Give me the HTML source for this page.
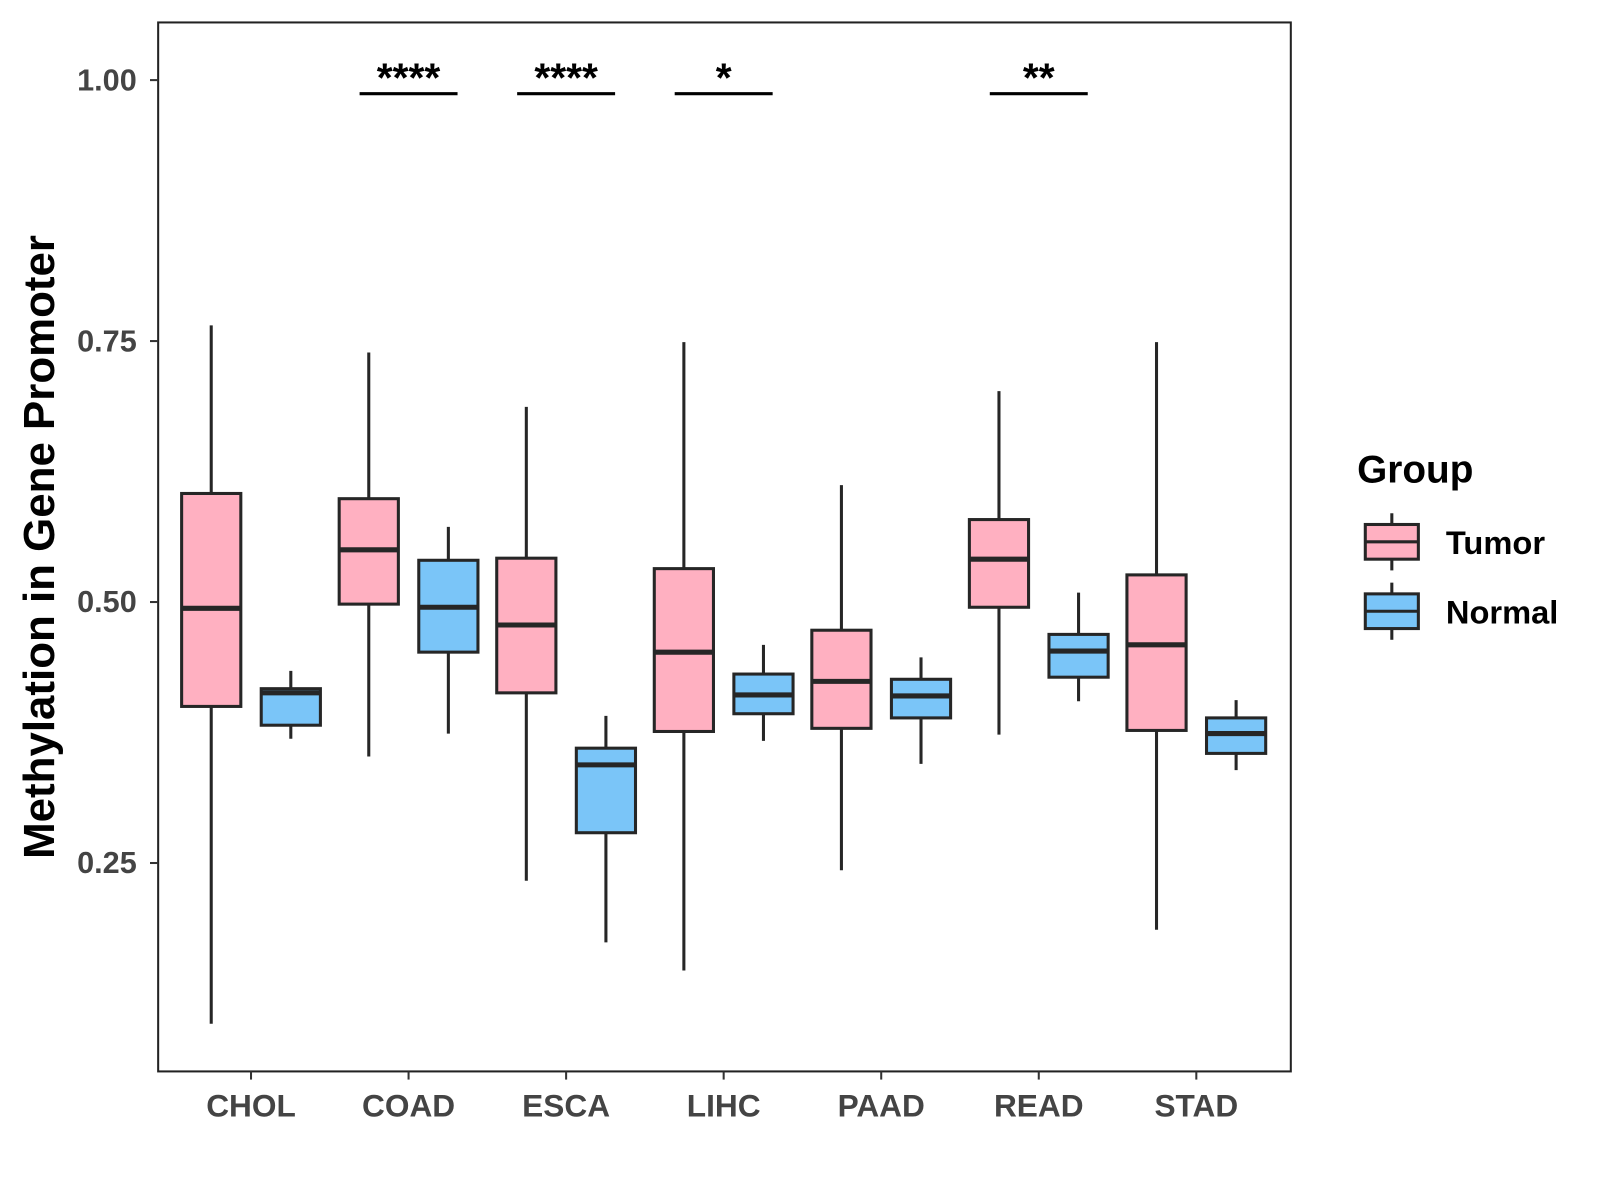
<!DOCTYPE html>
<html><head><meta charset="utf-8"><style>
body{margin:0;background:#fff}
svg{display:block;font-family:"Liberation Sans",Arial,sans-serif}
</style></head><body>
<svg id="chart" width="1600" height="1200" viewBox="0 0 1600 1200">
<g transform="scale(1.0204)">
<rect x="155" y="22" width="1110" height="1028" fill="#fff" stroke="#222" stroke-width="2"/>
<g id="marks"></g>
<g id="axes"></g>
<text x="0" y="0" transform="translate(53,536) rotate(-90)" text-anchor="middle" font-size="43" font-weight="bold" fill="#000">Methylation in Gene Promoter</text>
<g>
<text x="1330" y="473" font-size="38" font-weight="bold" fill="#000">Group</text>
<g>
<line x1="1364" y1="503" x2="1364" y2="559" stroke="#262626" stroke-width="3"/>
<rect x="1338" y="514" width="52" height="34" fill="#FFB0C1" stroke="#262626" stroke-width="3"/>
<line x1="1338" y1="531" x2="1390" y2="531" stroke="#262626" stroke-width="3"/>
<text x="1417" y="543" font-size="32" font-weight="bold" fill="#000">Tumor</text>
</g>
<g>
<line x1="1364" y1="571" x2="1364" y2="627" stroke="#262626" stroke-width="3"/>
<rect x="1338" y="582" width="52" height="34" fill="#7AC5F8" stroke="#262626" stroke-width="3"/>
<line x1="1338" y1="599" x2="1390" y2="599" stroke="#262626" stroke-width="3"/>
<text x="1417" y="611" font-size="32" font-weight="bold" fill="#000">Normal</text>
</g>
</g>
</g>
</svg>
<script>
const categories=["CHOL","COAD","ESCA","LIHC","PAAD","READ","STAD"];
// [lower whisker, Q1, median, Q3, upper whisker]
const tumorStats=[[0.096,0.400,0.494,0.604,0.765],[0.352,0.498,0.550,0.599,0.739],[0.233,0.413,0.478,0.542,0.687],[0.147,0.376,0.452,0.532,0.749],[0.243,0.379,0.424,0.473,0.612],[0.373,0.495,0.541,0.579,0.702],[0.186,0.377,0.459,0.526,0.749]];
const normalStats=[[0.369,0.382,0.413,0.417,0.434],[0.374,0.452,0.495,0.540,0.572],[0.174,0.279,0.344,0.360,0.391],[0.367,0.393,0.411,0.431,0.459],[0.345,0.389,0.410,0.426,0.447],[0.405,0.428,0.453,0.469,0.509],[0.339,0.355,0.374,0.389,0.406]];
const yTicks=[0.25,0.50,0.75,1.00];
const yTickLabels=["0.25","0.50","0.75","1.00"];
const sigCategories=["COAD","ESCA","LIHC","READ"];
const sigLabels=["****","****","*","**"];
const sigLevel=0.987;

const NS="http://www.w3.org/2000/svg";
const y=v=>590-(v-0.5)*1023;
const x=i=>246+i*154.4;
function mk(tag,attrs,parent,text){const e=document.createElementNS(NS,tag);for(const k in attrs)e.setAttribute(k,attrs[k]);if(text!==undefined)e.textContent=text;parent.appendChild(e);return e;}
const marks=document.getElementById('marks'),axes=document.getElementById('axes');
const S="#262626";
function box(cx,s,fill,name){
  const g=mk('g',{},marks);
  
  
  mk('line',{x1:cx,x2:cx,y1:y(s[4]),y2:y(s[0]),stroke:S,'stroke-width':3},g);
  mk('rect',{x:cx-29,width:58,y:y(s[3]),height:y(s[1])-y(s[3]),fill:fill,stroke:S,'stroke-width':3},g);
  mk('line',{x1:cx-29,x2:cx+29,y1:y(s[2]),y2:y(s[2]),stroke:S,'stroke-width':5},g);
}
categories.forEach((c,i)=>{
  box(x(i)-39,tumorStats[i],"#FFB0C1","box-"+c.toLowerCase()+"-tumor");
  box(x(i)+39,normalStats[i],"#7AC5F8","box-"+c.toLowerCase()+"-normal");
  const t=mk('line',{x1:x(i),x2:x(i),y1:1050,y2:1058,stroke:"#333",'stroke-width':2},axes);
  
  
  const l=mk('text',{x:x(i),y:1094,'text-anchor':'middle','font-size':31,'font-weight':'bold',fill:'#444'},axes,c);
  
  
});
yTicks.forEach((v,i)=>{
  const t=mk('line',{x1:147,x2:155,y1:y(v),y2:y(v),stroke:"#333",'stroke-width':2},axes);
  
  
  const l=mk('text',{x:134,y:y(v)+10,'text-anchor':'end','font-size':30,'font-weight':'bold',fill:'#444'},axes,yTickLabels[i]);
  
  
});
sigCategories.forEach((c,j)=>{
  const i=categories.indexOf(c);
  const ln=mk('line',{x1:x(i)-48,x2:x(i)+48,y1:y(sigLevel),y2:y(sigLevel),stroke:"#000",'stroke-width':3},marks);
  
  
  const tx=mk('text',{x:x(i),y:y(sigLevel)-2,'text-anchor':'middle','font-size':40,'font-weight':'bold',fill:'#000'},marks,sigLabels[j]);
  
  
});
</script>
</body></html>
